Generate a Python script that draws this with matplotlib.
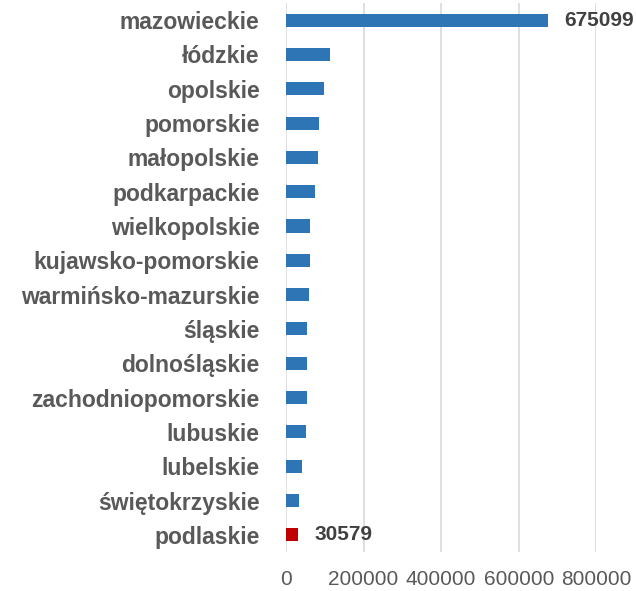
import matplotlib
matplotlib.use('Agg')
import matplotlib.pyplot as plt

regions = ['mazowieckie', 'łódzkie', 'opolskie', 'pomorskie', 'małopolskie',
           'podkarpackie', 'wielkopolskie', 'kujawsko-pomorskie',
           'warmińsko-mazurskie', 'śląskie', 'dolnośląskie',
           'zachodniopomorskie', 'lubuskie', 'lubelskie', 'świętokrzyskie',
           'podlaskie']
values = [675099, 113400, 97200, 85900, 82500, 74700, 62700, 61000,
          58400, 55000, 54100, 53300, 51500, 40400, 34400, 30579]
labelled = {'mazowieckie': 675099, 'podlaskie': 30579}
xticks = [0, 200000, 400000, 600000, 800000]

grey = '#595959'
plt.rcParams['font.family'] = ['Liberation Sans', 'DejaVu Sans']

fig = plt.figure(figsize=(6.36, 5.91), dpi=100)
ax = fig.add_axes([0.4497, 0.066, 0.4879, 0.929])

ypos = list(range(len(regions)))
colors = ['#C00000' if r == 'podlaskie' else '#2E75B6' for r in regions]
ax.barh(ypos, values, height=0.38, color=colors, zorder=3)

for i, r in enumerate(regions):
    if r in labelled:
        ax.annotate(str(labelled[r]), (values[i], i), xytext=(12, 0),
                    textcoords='offset points', va='center', ha='left',
                    fontsize=15, fontweight='bold', color='#404040',
                    annotation_clip=False)

ax.set_xlim(0, 800000)
ax.set_ylim(len(regions) - 0.5, -0.5)
ax.set_xticks(xticks)
ax.set_xticklabels([str(t) for t in xticks])
ax.set_yticks(ypos)
ax.set_yticklabels(regions, fontweight='bold')
ax.tick_params(axis='y', length=0, pad=19, labelsize=16.5, labelcolor=grey)
ax.tick_params(axis='x', length=0, pad=13, labelsize=15, labelcolor=grey)
ax.grid(axis='x', color='#D9D9D9', linewidth=1.2, zorder=0)
for s in ax.spines.values():
    s.set_visible(False)

fig.savefig('out.png', dpi=100)
